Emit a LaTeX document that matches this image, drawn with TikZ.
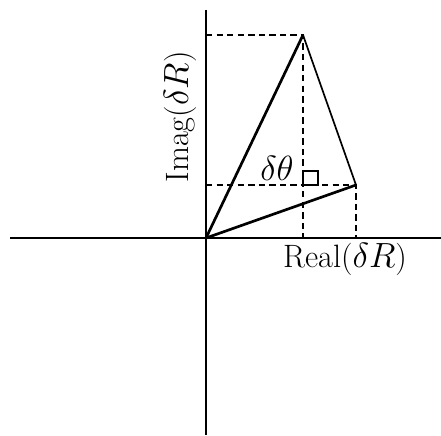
\documentclass[tikz,border=0pt]{standalone}
\begin{document}
\begin{tikzpicture}[x=0.025cm, y=-0.025cm,
            axis/.style={line width=1.2pt},
            vec/.style={line width=1.9pt},
            side/.style={line width=1.2pt},
            guide/.style={line width=1pt, dash pattern=on 4.5pt off 3pt},
            lbl/.style={font=\fontsize{23}{27}\selectfont, inner sep=0pt}
        ]
        \useasboundingbox (0,0) rectangle (441,435);
        % axes
        \coordinate (O) at (206,238);
        \coordinate (xl) at (10,238);
        \coordinate (xr) at (441,238);
        \coordinate (yt) at (206,10);
        \coordinate (yb) at (206,435);
        \draw[axis] (xl) -- (xr);
        \draw[axis] (yt) -- (yb);
        % points
        \coordinate (A) at (303,35);
        \coordinate (B) at (356,185);
        \coordinate (Ay) at (206,35);
        \coordinate (Ax) at (303,238);
        \coordinate (By) at (206,185);
        \coordinate (Bx) at (356,238);
        % projections
        \draw[guide] (Ay) -- (A) -- (Ax);
        \draw[guide] (By) -- (B) -- (Bx);
        % vectors
        \draw[vec] (O) -- (A);
        \draw[vec] (O) -- (B);
        \draw[side] (A) -- (B);
        % right angle mark
        \draw[line width=1.1pt] (303,171) rectangle (318,185);
        % labels
        \node[lbl] (dth) at (277,168) {$\delta\theta$};
        \node[lbl] (re) at (345,259) {Real($\delta R$)};
        \node[lbl, rotate=90] (im) at (180,117) {Imag($\delta R$)};
    \end{tikzpicture}
\end{document}
